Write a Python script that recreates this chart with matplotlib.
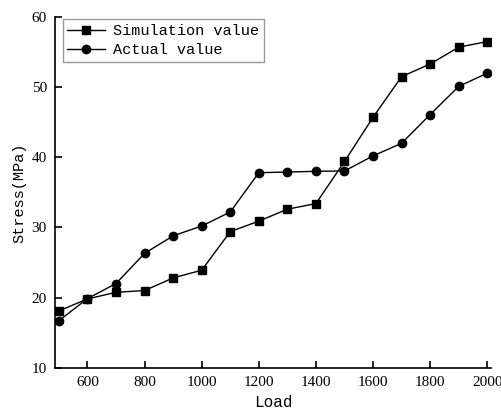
import matplotlib
matplotlib.use('Agg')
import matplotlib.pyplot as plt

# data
load = [500, 600, 700, 800, 900, 1000, 1100, 1200, 1300, 1400, 1500, 1600, 1700, 1800, 1900, 2000]
simulation = [18.1, 19.8, 20.75, 21.0, 22.8, 23.9, 29.4, 30.9, 32.6, 33.4, 39.4, 45.7, 51.5, 53.3, 55.7, 56.5]
actual = [16.7, 19.85, 22.0, 26.3, 28.8, 30.2, 32.2, 37.8, 37.9, 38.0, 38.05, 40.2, 42.0, 46.1, 50.1, 52.0]
x_ticks = [600, 800, 1000, 1200, 1400, 1600, 1800, 2000]
y_ticks = [10, 20, 30, 40, 50, 60]

mono = 'Liberation Mono'
serif = 'Liberation Serif'

fig = plt.figure(figsize=(5.02, 4.15), dpi=100)
ax = fig.add_axes([0.110, 0.114, 0.8675, 0.845])

ax.plot(load, simulation, color='black', lw=1.0, marker='s', ms=5.2, label='Simulation value')
ax.plot(load, actual, color='black', lw=1.0, marker='o', ms=6, label='Actual value')

ax.set_xlim(487, 2012)
ax.set_ylim(10, 60)
ax.set_xticks(x_ticks)
ax.set_yticks(y_ticks)
ax.tick_params(direction='in', length=5, width=1.2, labelsize=11, pad=6)
for lab in ax.get_xticklabels() + ax.get_yticklabels():
    lab.set_fontfamily(serif)

for s in ['top', 'right']:
    ax.spines[s].set_visible(False)
for s in ['left', 'bottom']:
    ax.spines[s].set_linewidth(1.2)

ax.set_xlabel('Load', fontfamily=mono, fontsize=11.5, labelpad=4)
ax.set_ylabel('Stress(MPa)', fontfamily=mono, fontsize=11, labelpad=4)

leg = ax.legend(loc='upper left', bbox_to_anchor=(0.017, 0.993), prop={'family': mono, 'size': 11},
                fancybox=False, edgecolor='#999999', framealpha=1, handlelength=2.5,
                borderpad=0.3, labelspacing=0.35, handletextpad=0.5, borderaxespad=0)
leg.get_frame().set_linewidth(1.0)

fig.savefig('out.png', dpi=100)
